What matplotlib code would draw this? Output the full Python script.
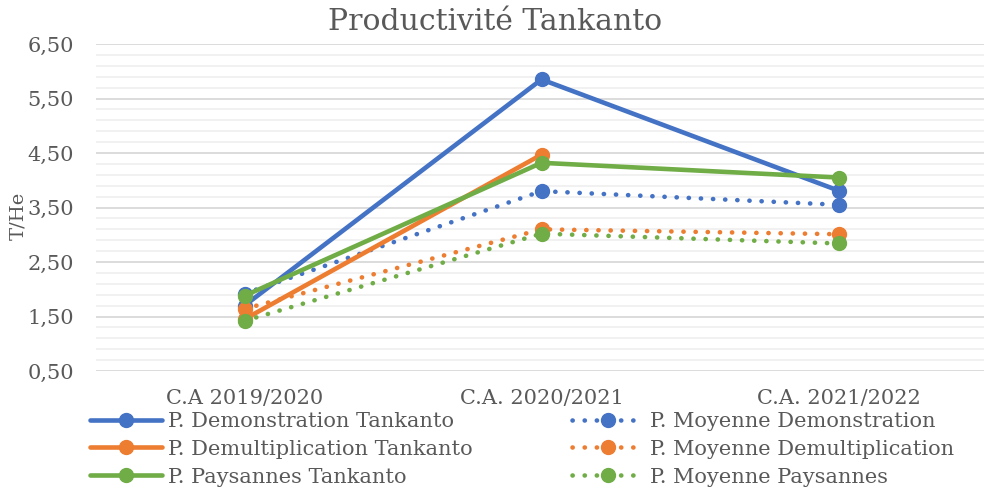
import matplotlib
matplotlib.use("Agg")
import numpy as np
import matplotlib.pyplot as plt
from matplotlib.ticker import FixedLocator, FuncFormatter

categories = ["C.A 2019/2020", "C.A. 2020/2021", "C.A. 2021/2022"]
demo_tankanto = [1.70, 5.85, 3.81]
demul_tankanto = [1.45, 4.47, None]
pays_tankanto = [1.88, 4.32, 4.05]
moy_demo = [1.92, 3.80, 3.55]
moy_demul = [1.64, 3.10, 3.01]
moy_pays = [1.42, 3.02, 2.84]
y_ticks = [0.5, 1.5, 2.5, 3.5, 4.5, 5.5, 6.5]

FAM = 'DejaVu Serif'
plt.rcParams['font.family'] = [FAM]
TXT = '#595959'
BLUE, ORANGE, GREEN = '#4472C4', '#ED7D31', '#70AD47'

fig = plt.figure(figsize=(9.84, 4.90), dpi=100)
ax = fig.add_axes([96/984, 1-371/490, 891/984, 327/490])

x = list(range(len(categories)))
solid = dict(lw=3.3, marker='o', ms=10, solid_capstyle='round')
dotted = dict(lw=3.3, marker='o', ms=10, linestyle=(0, (0.05, 2.6)), dash_capstyle='round')

series = [
    ("P. Demonstration Tankanto", demo_tankanto, BLUE, solid),
    ("P. Moyenne Demonstration", moy_demo, BLUE, dotted),
    ("P. Demultiplication Tankanto", demul_tankanto, ORANGE, solid),
    ("P. Moyenne Demultiplication", moy_demul, ORANGE, dotted),
    ("P. Paysannes Tankanto", pays_tankanto, GREEN, solid),
    ("P. Moyenne Paysannes", moy_pays, GREEN, dotted),
]
handles = {}
for z, (name, vals, col, st) in enumerate(series):
    xs = [xi for xi, v in zip(x, vals) if v is not None]
    vs = [v for v in vals if v is not None]
    h, = ax.plot(xs, vs, color=col, label=name, zorder=3 + z, clip_on=False, **st)
    handles[name] = h

ax.set_xlim(-0.5, 2.5)
ax.set_ylim(0.5, 6.5)
ax.yaxis.set_major_locator(FixedLocator(y_ticks))
ax.yaxis.set_minor_locator(FixedLocator(np.arange(0.5, 6.51, 0.2)))
ax.yaxis.set_major_formatter(FuncFormatter(lambda v, p: f"{v:.2f}".replace('.', ',')))
ax.grid(axis='y', which='major', color='#D9D9D9', lw=1.3, zorder=0)
ax.grid(axis='y', which='minor', color='#F0F0F0', lw=1.3, zorder=0)
ax.set_axisbelow(True)
for s in ax.spines.values():
    s.set_visible(False)
ax.tick_params(axis='both', which='both', length=0, colors=TXT, labelsize=15)
ax.tick_params(axis='y', pad=16)
ax.tick_params(axis='x', pad=13)
ax.set_xticks(x)
ax.set_xticklabels(categories, family=FAM)
for t in ax.get_yticklabels():
    t.set_family(FAM)
ax.set_ylabel("T/He", color=TXT, fontsize=14, family=FAM)
ax.yaxis.set_label_coords((27 - 96)/891, (371-216)/327)

fig.text(495/984, 1-22/490, "Productivité Tankanto", ha='center', va='center',
         fontsize=21.5, color=TXT, family=FAM)

col1 = ["P. Demonstration Tankanto", "P. Demultiplication Tankanto", "P. Paysannes Tankanto"]
col2 = ["P. Moyenne Demonstration", "P. Moyenne Demultiplication", "P. Moyenne Paysannes"]
common = dict(loc='upper left', frameon=False, prop={'family': FAM, 'size': 15},
              handlelength=3.45, handletextpad=0.3, labelspacing=0.42, labelcolor=TXT,
              borderpad=0, borderaxespad=0)
leg1 = fig.legend([handles[n] for n in col1], col1, bbox_to_anchor=(90/984, 1-412/490), **common)
leg2 = fig.legend([handles[n] for n in col2], col2, bbox_to_anchor=(572/984, 1-412/490), **common)
fig.savefig("out.png", dpi=100)
